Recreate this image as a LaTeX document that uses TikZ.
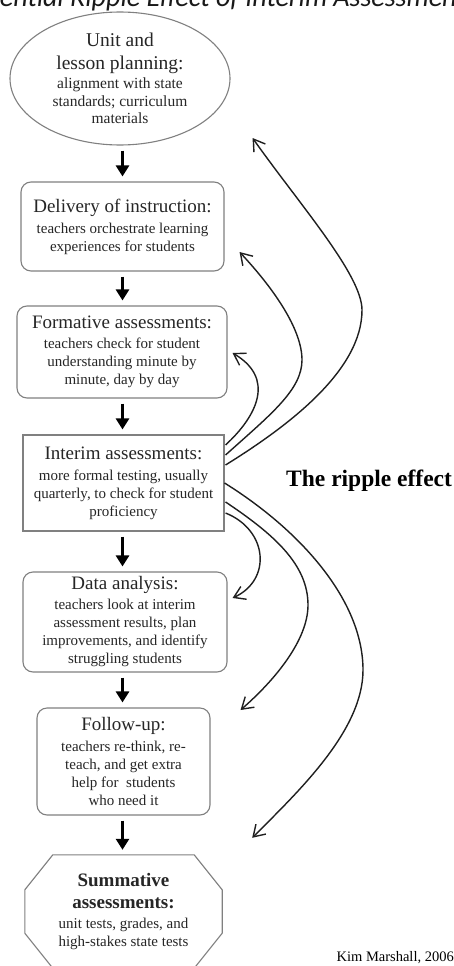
\documentclass[tikz,border=0pt]{standalone}
\usepackage{fontspec}
\setmainfont{Liberation Serif}
\newfontfamily\titlefont{Carlito}
\usetikzlibrary{arrows.meta,shapes.geometric}
\newlength\potw
\newcommand\hdfont{\fontsize{19}{21}\selectfont}
\newcommand\smfont{\fontsize{15}{18}\selectfont}
\newcommand\ttlfont{\titlefont\itshape\fontsize{28}{30}\selectfont}
\begin{document}
\settowidth{\potw}{\ttlfont Pot}%
\begin{tikzpicture}[x=1pt,y=-1pt,
  boxline/.style={draw=black!50, line width=1.1pt},
  stage/.style={boxline, rectangle, rounded corners=10pt, align=center, text=black!85, font=\smfont, inner sep=2pt},
  squarestage/.style={boxline, rectangle, align=center, text=black!85, font=\smfont, inner sep=2pt},
  downarr/.style={line width=3.5pt, black, -{Triangle[width=13pt,length=11pt]}, shorten <=5pt, shorten >=5pt},
  ripple/.style={line width=1.4pt, black!88, -{Straight Barb[length=11pt,width=14pt,line width=1.4pt]}},
  lbl/.style={inner sep=0pt, text=black}]
\useasboundingbox (0,0) rectangle (454,966);
\clip (0,0) rectangle (454,966);
\fill[white] (0,0) rectangle (454,966);

% title (cropped at the top of the picture)
\node[lbl, anchor=base west, xshift=-\potw, font=\ttlfont, text=black!90] (title) at (0,7) {Potential Ripple Effect of Interim Assessments};

% stages
\node[boxline, ellipse, minimum width=220pt, minimum height=133pt, inner sep=0pt, align=center, text=black!85, font=\fontsize{15.5}{17.5}\selectfont] (plan) at (120,78.5)
  {{\fontsize{19.5}{21}\selectfont Unit and}\\[5pt]{\fontsize{19.5}{21}\selectfont lesson planning:}\\[2pt]alignment with state\\standards; curriculum\\materials};

\node[stage, minimum width=203pt, minimum height=89pt] (deliv) at (122.5,226.5)
  {{\hdfont Delivery of instruction:}\\[3pt]teachers orchestrate learning\\experiences for students};

\node[stage, minimum width=210pt, minimum height=92pt] (form) at (122,352)
  {{\hdfont Formative assessments:}\\[2pt]teachers check for student\\understanding minute by\\minute, day by day};

\node[squarestage, minimum width=201pt, minimum height=96pt] (interim) at (123.5,483)
  {{\hdfont Interim assessments:}\\[3pt]more formal testing, usually\\quarterly, to check for student\\proficiency};

\node[stage, minimum width=204pt, minimum height=100pt] (data) at (125,622)
  {{\hdfont Data analysis:}\\[2pt]teachers look at interim\\assessment results, plan\\improvements, and identify\\struggling students};

\node[stage, minimum width=173pt, minimum height=107pt] (follow) at (123.5,761.5)
  {{\hdfont Follow-up:}\\[3pt]teachers re-think, re-\\teach, and get extra\\help for~ students\\who need it};

\node[rectangle, align=center, text=black!85, font=\smfont, minimum width=197pt, minimum height=113pt, inner sep=0pt] (summ) at (123.5,911.5)
  {{\hdfont\bfseries Summative}\\[4pt]{\hdfont\bfseries assessments:}\\[2pt]unit tests, grades, and\\high-stakes state tests};
\draw[boxline] ([xshift=28pt]summ.north west) -- ([xshift=-28pt]summ.north east)
  -- ([yshift=-35pt]summ.north east) -- ([yshift=35pt]summ.south east)
  -- ([xshift=-28pt]summ.south east) -- ([xshift=28pt]summ.south west)
  -- ([yshift=35pt]summ.south west) -- ([yshift=-35pt]summ.north west) -- cycle;

% labels
\node[lbl, anchor=base west, font=\bfseries\fontsize{23.5}{26}\selectfont] (rip) at (286,486) {The ripple effect};
\node[lbl, anchor=base east, font=\fontsize{14.5}{16}\selectfont] (credit) at (454,961) {Kim Marshall, 2006};

% down arrows
\draw[downarr] (deliv.north |- plan.south) -- (deliv.north);
\draw[downarr] (deliv.north |- deliv.south) -- (deliv.north |- form.north);
\draw[downarr] (deliv.north |- form.south) -- (deliv.north |- interim.north);
\draw[downarr] (deliv.north |- interim.south) -- (deliv.north |- data.north);
\draw[downarr] (deliv.north |- data.south) -- (deliv.north |- follow.north);
\draw[downarr] (deliv.north |- follow.south) -- (deliv.north |- summ.north);

% ripple arrows (upwards)
\draw[ripple] ([shift={(1,-38)}]interim.east) .. controls (258,415) and (275,378) .. ([shift={(5,1)}]form.east);
\draw[ripple] ([shift={(1,-28)}]interim.east) .. controls (270,415) and (302,390) .. (302,360)
  .. controls (302,330) and (275,290) .. ([shift={(15,25.5)}]deliv.east);
\draw[ripple] ([shift={(1,-18)}]interim.east) .. controls (290,425) and (362,370) .. (362,310)
  .. controls (362,275) and (300,205) .. ([shift={(22,59.5)}]plan.east);

% ripple arrows (downwards)
\draw[ripple] ([shift={(1,30)}]interim.east) .. controls (268,530) and (272,580) .. ([shift={(5,-24)}]data.east);
\draw[ripple] ([shift={(1,19)}]interim.east) .. controls (275,535) and (308,565) .. (308,605)
  .. controls (308,640) and (275,680) .. ([shift={(30,-51.5)}]follow.east);
\draw[ripple] (interim.east) .. controls (300,530) and (363,600) .. (363,670)
  .. controls (363,730) and (300,790) .. ([shift={(30,-17)}]summ.north east);
\end{tikzpicture}
\end{document}
